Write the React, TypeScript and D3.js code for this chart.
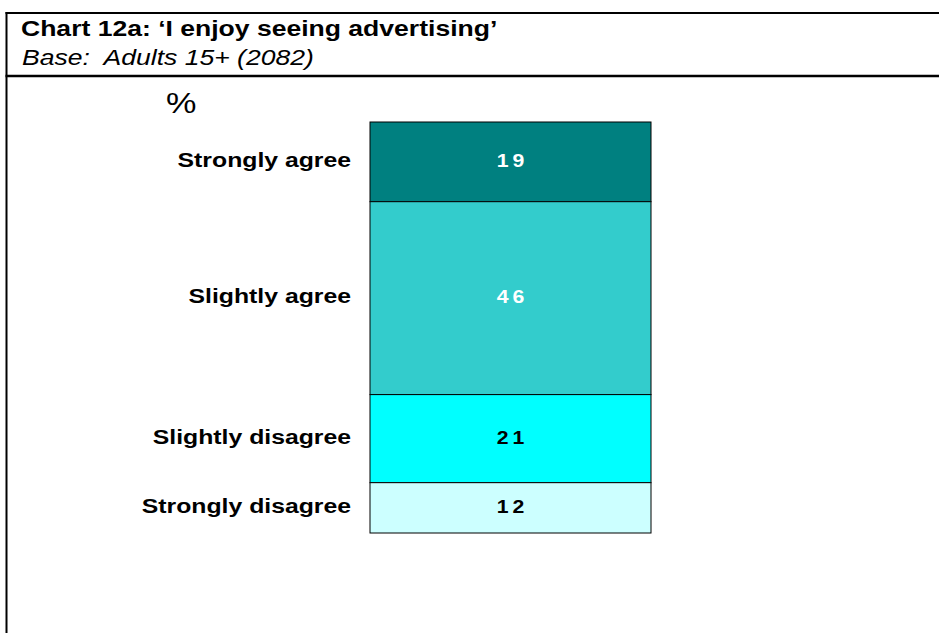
import React from "react";
import * as d3 from "d3";

const categories = ["Strongly agree", "Slightly agree", "Slightly disagree", "Strongly disagree"];
const values = [19, 46, 21, 12];
const segmentColors = ["#008080", "#33CCCC", "#00FFFF", "#CCFFFF"];
const valueTextColors = ["#FFFFFF", "#FFFFFF", "#000000", "#000000"];
const titleText = "Chart 12a: \u2018I enjoy seeing advertising\u2019";
const subtitleText = "Base:  Adults 15+ (2082)";
const unitText = "%";

const W = 939;
const H = 633;
const SX = 1.18;
const FONT = "'Liberation Sans', Arial, Helvetica, sans-serif";

export default function App() {
  const row: Record<string, number> = {};
  categories.forEach((c, i) => (row[c] = values[i]));
  const stack = d3.stack<Record<string, number>>().keys(categories)([row]);
  const total = d3.sum(values);

  const y = d3.scaleLinear().domain([0, total]).range([122, 533]);
  const x = d3.scaleBand<string>().domain(["all"]).range([370, 651]).padding(0);
  const bx = x("all") as number;
  const bw = x.bandwidth();
  const labelX = 351;

  return (
    <svg
      width={W}
      height={H}
      style={{ position: "absolute", left: 0, top: 0, background: "#fff" }}
      fontFamily={FONT}
    >
      <rect x={0} y={0} width={W} height={H} fill="#fff" />
      {/* frame lines */}
      <line x1={5.5} x2={W} y1={13} y2={13} stroke="#000" strokeWidth={2} />
      <line x1={5.5} x2={W} y1={76} y2={76} stroke="#000" strokeWidth={2.5} />
      <line x1={6.5} x2={6.5} y1={12} y2={H} stroke="#000" strokeWidth={2} />

      <text transform={`translate(21,36) scale(${SX},1)`} fontSize={22.5} fontWeight="bold" fill="#000">
        {titleText}
      </text>
      <text
        transform={`translate(22,65) scale(${SX},1)`}
        fontSize={22.5}
        fontStyle="italic"
        fill="#000"
        style={{ whiteSpace: "pre" }}
        xmlSpace="preserve"
      >
        {subtitleText}
      </text>
      <text transform={`translate(166,113) scale(${SX},1)`} fontSize={29} fill="#000">
        {unitText}
      </text>

      {stack.map((s, i) => {
        const d = s[0];
        const y0 = y(d[0]);
        const y1 = y(d[1]);
        const cy = (y0 + y1) / 2 + 5;
        return (
          <g key={s.key}>
            <rect
              x={bx}
              y={y0}
              width={bw}
              height={y1 - y0}
              fill={segmentColors[i]}
              stroke="#000"
              strokeWidth={1}
            />
            <text
              transform={`translate(${bx + bw / 2},${cy}) scale(${SX},1)`}
              textAnchor="middle"
              fontSize={18}
              fontWeight="bold"
              letterSpacing={3.5}
              dx={1.75}
              fill={valueTextColors[i]}
            >
              {values[i]}
            </text>
            <text
              transform={`translate(${labelX},${cy}) scale(${SX},1)`}
              textAnchor="end"
              fontSize={21}
              fontWeight="bold"
              fill="#000"
            >
              {s.key}
            </text>
          </g>
        );
      })}
    </svg>
  );
}
